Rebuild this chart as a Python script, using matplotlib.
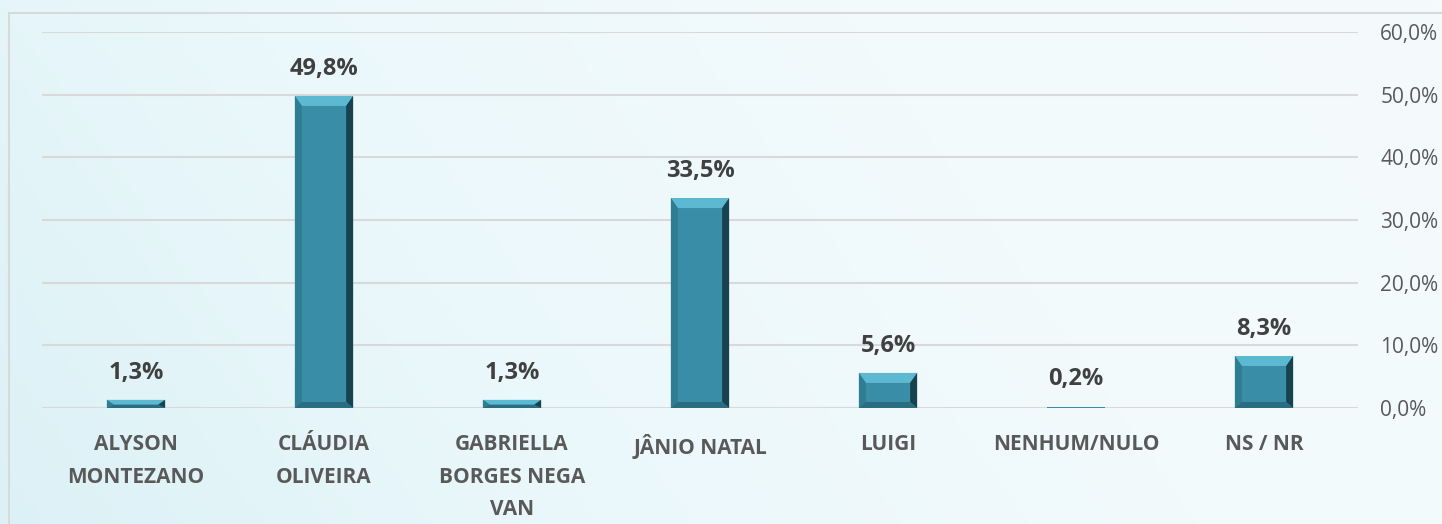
import numpy as np
import matplotlib.pyplot as plt
from matplotlib.patches import Polygon, Rectangle
from matplotlib.colors import LinearSegmentedColormap

plt.rcParams['font.family'] = ['Open Sans', 'DejaVu Sans']

categories = ["ALYSON\nMONTEZANO", "CLÁUDIA\nOLIVEIRA", "GABRIELLA\nBORGES NEGA\nVAN",
              "JÂNIO NATAL", "LUIGI", "NENHUM/NULO", "NS / NR"]
values = [1.3, 49.8, 1.3, 33.5, 5.6, 0.2, 8.3]
yticks = [0, 10, 20, 30, 40, 50, 60]

face = '#3A8DA6'
top_c = '#5DB9D2'
left_c = '#2F7D93'
right_c = '#17424F'
bottom_c = '#2A6D80'

fig = plt.figure(figsize=(14.42, 5.24), dpi=100)

# background gradient
bg = fig.add_axes([0, 0, 1, 1], zorder=-10)
bg.set_axis_off()
cmap = LinearSegmentedColormap.from_list('bg', ['#DCF1F6', '#EBF8FB', '#F2FAFC', '#F5FAFC'])
gx = np.linspace(0, 1, 300)
gy = np.linspace(0, 1, 100)
G = np.clip(gx[None, :] * 0.8 + (1 - gy[:, None]) * 0.2, 0, 1)
bg.imshow(G, cmap=cmap, aspect='auto', extent=[0, 1, 0, 1], origin='upper')
bg.set_xlim(0, 1)
bg.set_ylim(0, 1)
# outer frame
bg.add_patch(Rectangle((9 / 1442, -0.1), 1.2, 1 - 13 / 524 + 0.1, fill=False,
                       edgecolor='#D6DADB', lw=1.5))

ax = fig.add_axes([42 / 1442, 1 - 408 / 524, 1316 / 1442, 376 / 524])
ax.patch.set_alpha(0)
x = np.arange(len(categories))
width = 0.31
bars = ax.bar(x, values, width=width, color=face, zorder=3)

ax.set_xlim(-0.5, len(categories) - 0.5)
ax.set_ylim(0, 60)

# bevel edges on each bar (sizes in pixels converted to data units)
px_x = 1 / 188.0
px_y = 60 / 376.0
for b in bars:
    x0, y0 = b.get_x(), b.get_y()
    w, h = b.get_width(), b.get_height()
    if h <= 0.3:
        continue
    dy_top = min(10 * px_y, h * 0.6)
    dy_bot = min(6 * px_y, h * 0.4)
    dx = min(7 * px_x, w / 2)
    x1, y1 = x0 + w, y0 + h
    ax.add_patch(Polygon([(x0, y1), (x1, y1), (x1 - dx, y1 - dy_top), (x0 + dx, y1 - dy_top)],
                         color=top_c, zorder=4, lw=0))
    ax.add_patch(Polygon([(x0, y0), (x0 + dx, y0 + dy_bot), (x0 + dx, y1 - dy_top), (x0, y1)],
                         color=left_c, zorder=4, lw=0))
    ax.add_patch(Polygon([(x1, y0), (x1, y1), (x1 - dx, y1 - dy_top), (x1 - dx, y0 + dy_bot)],
                         color=right_c, zorder=4, lw=0))
    ax.add_patch(Polygon([(x0, y0), (x1, y0), (x1 - dx, y0 + dy_bot), (x0 + dx, y0 + dy_bot)],
                         color=bottom_c, zorder=4, lw=0))

for xi, v in zip(x, values):
    ax.annotate(f"{v:.1f}%".replace('.', ','), (xi, v), xytext=(0, 11),
                textcoords='offset points', ha='center', va='bottom',
                fontsize=17, fontweight='bold', color='#404040')

ax.set_yticks(yticks)
ax.set_yticklabels([f"{t:.1f}%".replace('.', ',') for t in yticks])
ax.yaxis.tick_right()
ax.tick_params(axis='y', length=0, pad=16, labelsize=15, labelcolor='#595959')
ax.set_xticks(x)
ax.set_xticklabels(categories, fontsize=15, fontweight='bold', color='#595959',
                   linespacing=1.7)
ax.tick_params(axis='x', length=0, pad=19)
for lbl in ax.get_xticklabels():
    lbl.set_verticalalignment('top')

ax.grid(axis='y', color='#D9D9D9', lw=1.5, zorder=0)
for s in ax.spines.values():
    s.set_visible(False)

fig.savefig('out.png', dpi=100)
